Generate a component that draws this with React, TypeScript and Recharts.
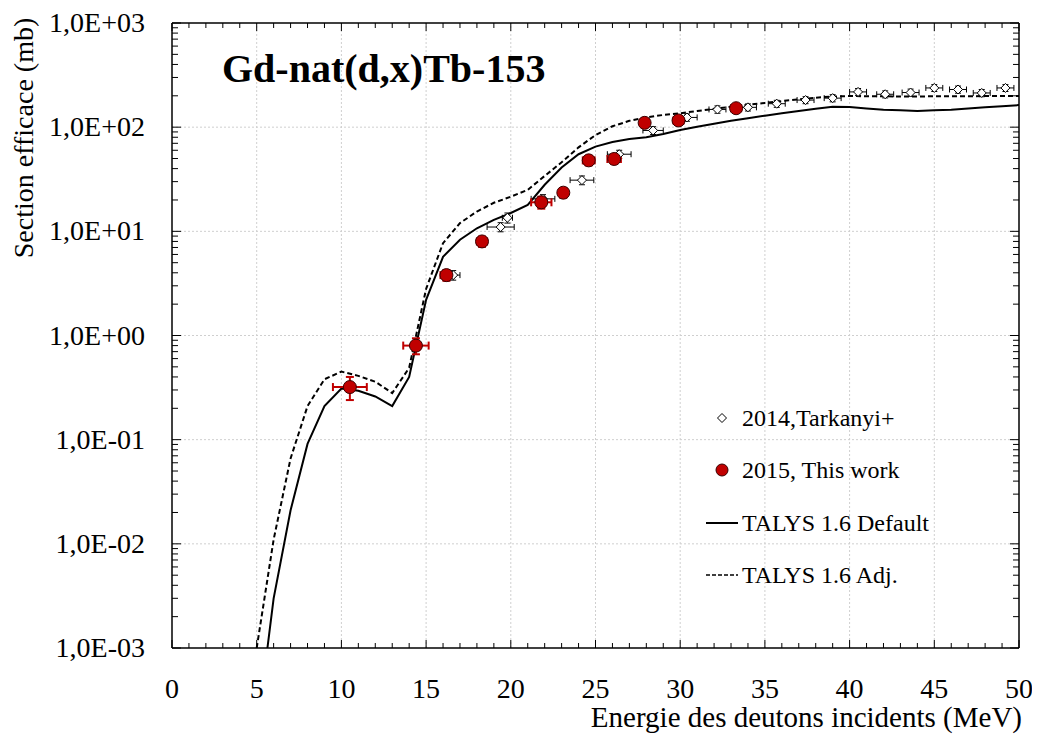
import React from 'react';
import { ComposedChart, Line, Scatter, ErrorBar, XAxis, YAxis, ReferenceLine, Legend } from 'recharts';

const FONT = '"Liberation Serif", "Times New Roman", Times, serif';

// TALYS 1.6 calculations (MeV grid)
const talysEnergy = [5, 6, 7, 8, 9, 10, 11, 12, 13, 14, 15, 16, 17, 18, 19, 20, 21, 22, 23, 24, 25, 26, 27,
  28, 29, 30, 31, 32, 33, 34, 35, 36, 37, 38, 39, 40, 41, 42, 43, 44, 45, 46, 47, 48, 49, 50];
const talysDefault = [0.00015, 0.003, 0.021, 0.091, 0.21, 0.31, 0.295, 0.26, 0.21, 0.4, 2.2, 5.7, 8.3, 10.7,
  12.9, 15.0, 17.9, 28, 41, 55, 65, 72, 77, 80, 86, 94, 101, 108, 115, 122, 129, 136, 143, 150, 157, 156, 151,
  147, 145, 143, 145, 147, 151, 155, 159, 163];
const talysAdj = [0.001, 0.011, 0.066, 0.21, 0.38, 0.45, 0.41, 0.36, 0.28, 0.49, 2.8, 7.7, 12, 15.5, 18.8,
  21.5, 25, 34, 46, 64, 84, 102, 115, 124, 131, 136, 143, 150, 157, 164, 171, 178, 185, 192, 197, 199, 198, 198,
  197, 197, 198, 198, 198, 199, 199, 199];

// 2015, This work
const thisEnergy = [10.5, 14.4, 16.2, 18.3, 21.8, 23.1, 24.6, 26.1, 27.9, 29.9, 33.3];
const thisEnergyErr = [1.0, 0.75, 0.35, 0.3, 0.6, 0.2, 0.35, 0.4, 0.25, 0.3, 0.3];
const thisXs = [0.32, 0.8, 3.8, 8.0, 19, 23.5, 48, 49.5, 110, 116, 152];
const thisXsErr = [0.08, 0.14, 0.45, 0.9, 2.5, 2.5, 5, 5, 10, 10, 12];

// 2014, Tarkanyi+
const tarkEnergy = [16.6, 19.4, 19.8, 21.9, 24.2, 26.4, 28.4, 30.4, 32.2, 34.0, 35.7, 37.4, 39.0, 40.5, 42.1,
  43.6, 45.0, 46.4, 47.8, 49.2];
const tarkEnergyErr = [0.4, 0.8, 0.3, 0.7, 0.7, 0.7, 0.6, 0.6, 0.5, 0.5, 0.5, 0.5, 0.5, 0.5, 0.5, 0.5, 0.5, 0.5,
  0.5, 0.5];
const tarkXs = [3.8, 11.0, 13.5, 20.5, 31, 55, 93, 124, 148, 155, 168, 182, 190, 218, 207, 215, 238, 230, 213, 238];
const tarkXsErr = [0.4, 1.1, 1.5, 2, 3, 5, 8, 10, 12, 12, 13, 14, 15, 17, 16, 17, 18, 18, 17, 18];

const xMajorTicks = [0, 5, 10, 15, 20, 25, 30, 35, 40, 45, 50];
const xAllTicks = Array.from({ length: 51 }, (_, i) => i);
const yMajorTicks = [0.001, 0.01, 0.1, 1, 10, 100, 1000];
const yTickLabels = ['1,0E-03', '1,0E-02', '1,0E-01', '1,0E+00', '1,0E+01', '1,0E+02', '1,0E+03'];
const yDecades = [0.001, 0.01, 0.1, 1, 10, 100];
const yMultipliers = [1, 2, 3, 4, 5, 6, 7, 8, 9];
const yAllTicks = yDecades.flatMap((d) => yMultipliers.map((m) => m * d)).concat([1000]);

const legendItems = [
  { name: '2014,Tarkanyi+', kind: 'diamond' },
  { name: '2015, This work', kind: 'circle' },
  { name: 'TALYS 1.6 Default', kind: 'solid' },
  { name: 'TALYS 1.6 Adj.', kind: 'dashed' },
];

const defaultData = talysEnergy.map((x, i) => ({ x, y: talysDefault[i] }));
const adjData = talysEnergy.map((x, i) => ({ x, y: talysAdj[i] }));
const thisData = thisEnergy.map((x, i) => ({ x, y: thisXs[i], ex: thisEnergyErr[i], ey: thisXsErr[i] }));
const tarkData = tarkEnergy.map((x, i) => ({ x, y: tarkXs[i], ex: tarkEnergyErr[i], ey: tarkXsErr[i] }));

const majorIndexY = (v: number) =>
  yMajorTicks.findIndex((m) => Math.abs(Math.log10(v) - Math.log10(m)) < 1e-6);

const BottomTick = (props: any) => {
  const { x, y, payload } = props;
  const major = xMajorTicks.includes(payload.value);
  return (
    <g>
      <line x1={x} y1={y} x2={x} y2={y - (major ? 8 : 5)} stroke="#000" strokeWidth={1} />
      {major && (
        <text x={x} y={y + 50} textAnchor="middle" fontSize={28} fontFamily={FONT} fill="#000">
          {payload.value}
        </text>
      )}
    </g>
  );
};

const TopTick = (props: any) => {
  const { x, y, payload } = props;
  const major = xMajorTicks.includes(payload.value);
  return <line x1={x} y1={y} x2={x} y2={y + (major ? 8 : 5)} stroke="#000" strokeWidth={1} />;
};

const LeftTick = (props: any) => {
  const { x, y, payload } = props;
  const idx = majorIndexY(payload.value);
  return (
    <g>
      <line x1={x} y1={y} x2={x + (idx >= 0 ? 9 : 6)} y2={y} stroke="#000" strokeWidth={1} />
      {idx >= 0 && (
        <text x={x - 27} y={y + 9} textAnchor="end" fontSize={28} fontFamily={FONT} fill="#000">
          {yTickLabels[idx]}
        </text>
      )}
    </g>
  );
};

const RightTick = (props: any) => {
  const { x, y, payload } = props;
  const major = majorIndexY(payload.value) >= 0;
  return <line x1={x} y1={y} x2={x - (major ? 9 : 6)} y2={y} stroke="#000" strokeWidth={1} />;
};

const DiamondShape = (props: any) => {
  const { cx, cy } = props;
  const s = 4.5;
  return (
    <polygon
      points={`${cx},${cy - s} ${cx + s},${cy} ${cx},${cy + s} ${cx - s},${cy}`}
      fill="#fff"
      stroke="#000"
      strokeWidth={1}
    />
  );
};

const CircleShape = (props: any) => {
  const { cx, cy } = props;
  return <circle cx={cx} cy={cy} r={6.5} fill="#c00000" stroke="#3a0000" strokeWidth={1} />;
};

const LegendIcon = ({ kind }: { kind: string }) => (
  <svg width={36} height={20}>
    {kind === 'diamond' && <polygon points="16,5.5 20.5,10 16,14.5 11.5,10" fill="#fff" stroke="#000" />}
    {kind === 'circle' && <circle cx={16} cy={10} r={6} fill="#c00000" stroke="#3a0000" />}
    {kind === 'solid' && <line x1={0} y1={10} x2={32} y2={10} stroke="#000" strokeWidth={2} />}
    {kind === 'dashed' && (
      <line x1={0} y1={10} x2={32} y2={10} stroke="#000" strokeWidth={1.5} strokeDasharray="4 2" />
    )}
  </svg>
);

const renderLegend = () => (
  <div style={{ fontFamily: FONT, fontSize: 24, color: '#000' }}>
    {legendItems.map((item) => (
      <div key={item.name} style={{ display: 'flex', alignItems: 'center', height: 52.3 }}>
        <LegendIcon kind={item.kind} />
        <span style={{ lineHeight: 1, whiteSpace: 'nowrap' }}>{item.name}</span>
      </div>
    ))}
  </div>
);

export default function App() {
  const W = 1024;
  const H = 729;
  return (
    <div style={{ position: 'relative', width: W, height: H, background: '#fff' }}>
      <ComposedChart width={W} height={H} margin={{ top: 0, right: 0, bottom: 0, left: 0 }}>
        <XAxis
          xAxisId={0}
          dataKey="x"
          type="number"
          domain={[0, 50]}
          allowDataOverflow
          ticks={xAllTicks}
          interval={0}
          height={89}
          tickSize={0}
          tickMargin={0}
          tickLine={false}
          tick={BottomTick}
          axisLine={{ stroke: '#000', strokeWidth: 1.5 }}
        />
        <XAxis
          xAxisId="top"
          orientation="top"
          dataKey="x"
          type="number"
          domain={[0, 50]}
          allowDataOverflow
          ticks={xAllTicks}
          interval={0}
          height={15}
          tickSize={0}
          tickMargin={0}
          tickLine={false}
          tick={TopTick}
          axisLine={{ stroke: '#000', strokeWidth: 1.5 }}
        />
        <YAxis
          yAxisId={0}
          type="number"
          scale="log"
          domain={[0.001, 1000]}
          allowDataOverflow
          ticks={yAllTicks}
          interval={0}
          width={164}
          tickSize={0}
          tickMargin={0}
          tickLine={false}
          tick={LeftTick}
          axisLine={{ stroke: '#000', strokeWidth: 1.5 }}
        />
        <YAxis
          yAxisId="right"
          orientation="right"
          type="number"
          scale="log"
          domain={[0.001, 1000]}
          allowDataOverflow
          ticks={yAllTicks}
          interval={0}
          width={13}
          tickSize={0}
          tickMargin={0}
          tickLine={false}
          tick={RightTick}
          axisLine={{ stroke: '#000', strokeWidth: 1.5 }}
        />
        {xMajorTicks.slice(1, -1).map((v) => (
          <ReferenceLine key={`gx${v}`} x={v} stroke="#cfcfcf" strokeDasharray="2 2" strokeWidth={1} />
        ))}
        {yMajorTicks.slice(1, -1).map((v) => (
          <ReferenceLine key={`gy${v}`} y={v} stroke="#cfcfcf" strokeDasharray="2 2" strokeWidth={1} />
        ))}
        <Line
          data={defaultData}
          dataKey="y"
          name="TALYS 1.6 Default"
          type="linear"
          stroke="#000"
          strokeWidth={2}
          dot={false}
          activeDot={false}
          isAnimationActive={false}
        />
        <Line
          data={adjData}
          dataKey="y"
          name="TALYS 1.6 Adj."
          type="linear"
          stroke="#000"
          strokeWidth={2}
          strokeDasharray="5 3"
          dot={false}
          activeDot={false}
          isAnimationActive={false}
        />
        <Scatter data={tarkData} dataKey="y" name="2014,Tarkanyi+" shape={DiamondShape} isAnimationActive={false}>
          <ErrorBar dataKey="ex" direction="x" width={3} stroke="#000" strokeWidth={1} />
          <ErrorBar dataKey="ey" direction="y" width={3} stroke="#000" strokeWidth={1} />
        </Scatter>
        <Scatter data={thisData} dataKey="y" name="2015, This work" shape={CircleShape} isAnimationActive={false}>
          <ErrorBar dataKey="ex" direction="x" width={4} stroke="#c00000" strokeWidth={2} />
          <ErrorBar dataKey="ey" direction="y" width={4} stroke="#c00000" strokeWidth={2} />
        </Scatter>
        <Legend
          layout="vertical"
          align="center"
          verticalAlign="middle"
          content={renderLegend}
          wrapperStyle={{ left: 698, top: 384, width: 300, height: 210 }}
        />
      </ComposedChart>
      <svg
        width={W}
        height={H}
        style={{ position: 'absolute', left: 0, top: 0, pointerEvents: 'none' }}
      >
        <text x={214} y={74} fontFamily={FONT} fontWeight="bold" fontSize={40} fill="#000">
          Gd-nat(d,x)Tb-153
        </text>
        <text x={1014} y={719} textAnchor="end" fontFamily={FONT} fontSize={29} fill="#000">
          Energie des deutons incidents (MeV)
        </text>
        <text
          x={25}
          y={130}
          textAnchor="middle"
          fontFamily={FONT}
          fontSize={28}
          fill="#000"
          transform="rotate(-90, 25, 130)"
        >
          Section efficace (mb)
        </text>
      </svg>
    </div>
  );
}
